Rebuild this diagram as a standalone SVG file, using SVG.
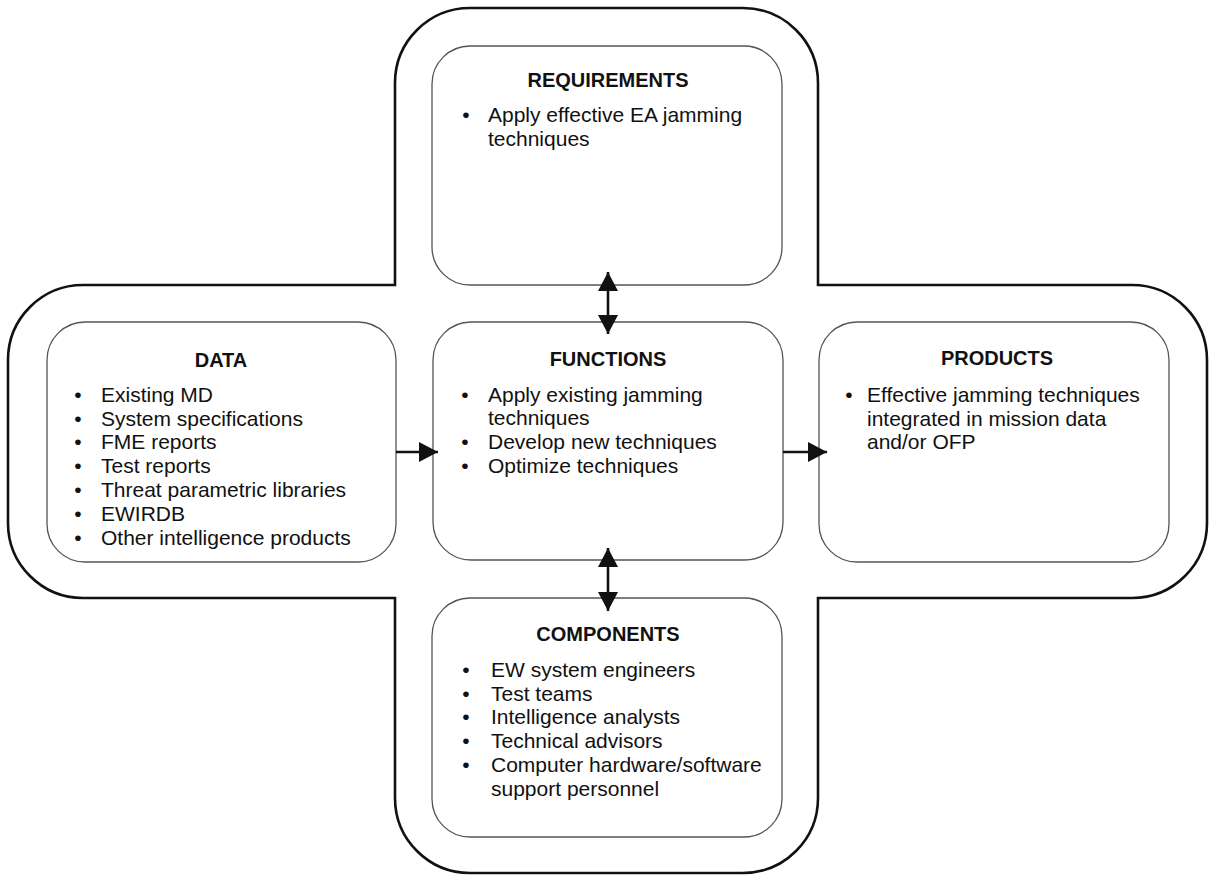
<svg xmlns="http://www.w3.org/2000/svg" width="1211" height="877" viewBox="0 0 1211 877">
<style>
text{font-family:"Liberation Sans",Arial,Helvetica,sans-serif;fill:#111}
.h{font-size:20px;font-weight:bold;text-anchor:middle}
.b{font-size:21px}
.d{font-size:21px;text-anchor:middle}
.box{fill:#fff;stroke:#555;stroke-width:1.3}
.outer{fill:#fff;stroke:#111;stroke-width:2.6}
.con{stroke:#111;stroke-width:2.6;fill:none}
</style>
<defs>
<marker id="ah" markerUnits="userSpaceOnUse" markerWidth="20" markerHeight="22" viewBox="0 0 20 22" refX="19" refY="11" orient="auto-start-reverse">
<path d="M0,1 L19,11 L0,21 Z" fill="#111"/>
</marker>
</defs>
<rect width="1211" height="877" fill="#fff"/>
<path class="outer" d="M395,285 L395,83 A75,75 0 0 1 470,8 L743,8 A75,75 0 0 1 818,83 L818,285 L1132,285 A75,75 0 0 1 1207,360 L1207,523 A75,75 0 0 1 1132,598 L818,598 L818,798 A75,75 0 0 1 743,873 L470,873 A75,75 0 0 1 395,798 L395,598 L83,598 A75,75 0 0 1 8,523 L8,360 A75,75 0 0 1 83,285 Z"/>
<g id="requirements">
<rect class="box" x="432" y="46" width="350" height="239" rx="38"/>
<text class="h" x="608" y="87">REQUIREMENTS</text>
<text class="d" x="466" y="122">•</text>
<text class="b" x="488" y="122">Apply effective EA jamming</text>
<text class="b" x="488" y="145.5">techniques</text>
</g>
<g id="data">
<rect class="box" x="47" y="322" width="349" height="240" rx="38"/>
<text class="h" x="221" y="367">DATA</text>
<text class="d" x="78" y="401.7">•</text><text class="b" x="101" y="401.7">Existing MD</text>
<text class="d" x="78" y="425.5">•</text><text class="b" x="101" y="425.5">System specifications</text>
<text class="d" x="78" y="449.3">•</text><text class="b" x="101" y="449.3">FME reports</text>
<text class="d" x="78" y="473">•</text><text class="b" x="101" y="473">Test reports</text>
<text class="d" x="78" y="497">•</text><text class="b" x="101" y="497">Threat parametric libraries</text>
<text class="d" x="78" y="520.7">•</text><text class="b" x="101" y="520.7">EWIRDB</text>
<text class="d" x="78" y="544.5">•</text><text class="b" x="101" y="544.5">Other intelligence products</text>
</g>
<g id="functions">
<rect class="box" x="433" y="322" width="350" height="238" rx="38"/>
<text class="h" x="608" y="366">FUNCTIONS</text>
<text class="d" x="465" y="401.7">•</text><text class="b" x="488" y="401.7">Apply existing jamming</text>
<text class="b" x="488" y="425">techniques</text>
<text class="d" x="465" y="448.8">•</text><text class="b" x="488" y="448.8">Develop new techniques</text>
<text class="d" x="465" y="472.6">•</text><text class="b" x="488" y="472.6">Optimize techniques</text>
</g>
<g id="products">
<rect class="box" x="819" y="322" width="350" height="240" rx="38"/>
<text class="h" x="997" y="365">PRODUCTS</text>
<text class="d" x="849" y="401.7">•</text>
<text class="b" x="867" y="401.7">Effective jamming techniques</text>
<text class="b" x="867" y="425.5">integrated in mission data</text>
<text class="b" x="867" y="449.3">and/or OFP</text>
</g>
<g id="components">
<rect class="box" x="432" y="598" width="350" height="239" rx="38"/>
<text class="h" x="608" y="641">COMPONENTS</text>
<text class="d" x="466" y="676.7">•</text><text class="b" x="491" y="676.7">EW system engineers</text>
<text class="d" x="466" y="700.5">•</text><text class="b" x="491" y="700.5">Test teams</text>
<text class="d" x="466" y="724.3">•</text><text class="b" x="491" y="724.3">Intelligence analysts</text>
<text class="d" x="466" y="748">•</text><text class="b" x="491" y="748">Technical advisors</text>
<text class="d" x="466" y="771.8">•</text><text class="b" x="491" y="771.8">Computer hardware/software</text>
<text class="b" x="491" y="795.5">support personnel</text>
</g>
<g id="connectors">
<path class="con" d="M396,452 L438,452" marker-end="url(#ah)"/>
<path class="con" d="M783,452 L827,452" marker-end="url(#ah)"/>
<path class="con" d="M608,272 L608,334" marker-start="url(#ah)" marker-end="url(#ah)"/>
<path class="con" d="M608,548 L608,611" marker-start="url(#ah)" marker-end="url(#ah)"/>
</g>
</svg>
